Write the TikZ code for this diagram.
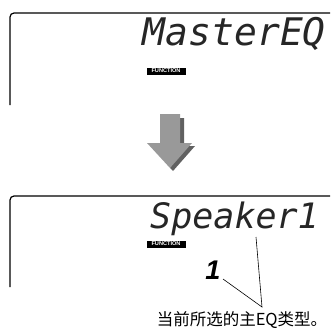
\documentclass[tikz,border=0pt]{standalone}
\usepackage{fontspec}
\usepackage{tikz}
\usetikzlibrary{positioning}
\newfontfamily\lcdfont{DejaVu Sans Mono}
\newfontfamily\digitfont{Liberation Sans}
\newfontfamily\cjk{Noto Sans CJK SC}
\tikzset{
  lcdframe/.style={line width=1.2pt, rounded corners=4pt},
  functag/.style={fill=black, text=white, inner sep=0pt, minimum width=39pt,
    minimum height=7pt, font=\digitfont\bfseries\fontsize{5.6}{6}\selectfont},
  lcdtext/.style={inner sep=0pt, text=black!85, font=\lcdfont\itshape\fontsize{38}{40}\selectfont},
  leader/.style={line width=0.6pt}
}

\begin{document}
\begin{tikzpicture}[x=1pt, y=-1pt]
\useasboundingbox (0,0) rectangle (330,332);

% 上の表示
\draw[lcdframe] (10,105) -- (10,13) -- (330,13);
\node[lcdtext, anchor=base east] (master) at (326,45) {MasterEQ};
\node[functag] (func1) at (166,71) {FUNCTION};

% 矢印
\fill[black!62] (180,118) -- (184,118) -- (184,146) -- (195,146) -- (173,171) -- (170,168) -- (180,146) -- cycle;
\fill[black!40] (160,114) -- (180,114) -- (180,143) -- (192,143) -- (170,168) -- (147,143) -- (160,143) -- cycle;

% 下の表示
\draw[lcdframe] (10,287) -- (10,196) -- (330,196);
\node[lcdtext, anchor=base east, font=\lcdfont\itshape\fontsize{35}{37}\selectfont] (speaker) at (319,228) {Speaker1};
\node[functag] (func2) at (166,244) {FUNCTION};
\node[inner sep=0pt, font=\digitfont\bfseries\itshape\fontsize{27}{28}\selectfont] (digit) at (213,270) {1};

% 説明
\node[inner sep=0pt, font=\cjk\fontsize{16.5}{18}\selectfont] (note) at (242,320) {当前所选的主EQ类型。};
\coordinate (meet) at (262,307);
\coordinate (digitend) at (223,279);
\coordinate (speakend) at (256,237);
\draw[leader] (digitend) -- (meet) -- (speakend);
\end{tikzpicture}
\end{document}
